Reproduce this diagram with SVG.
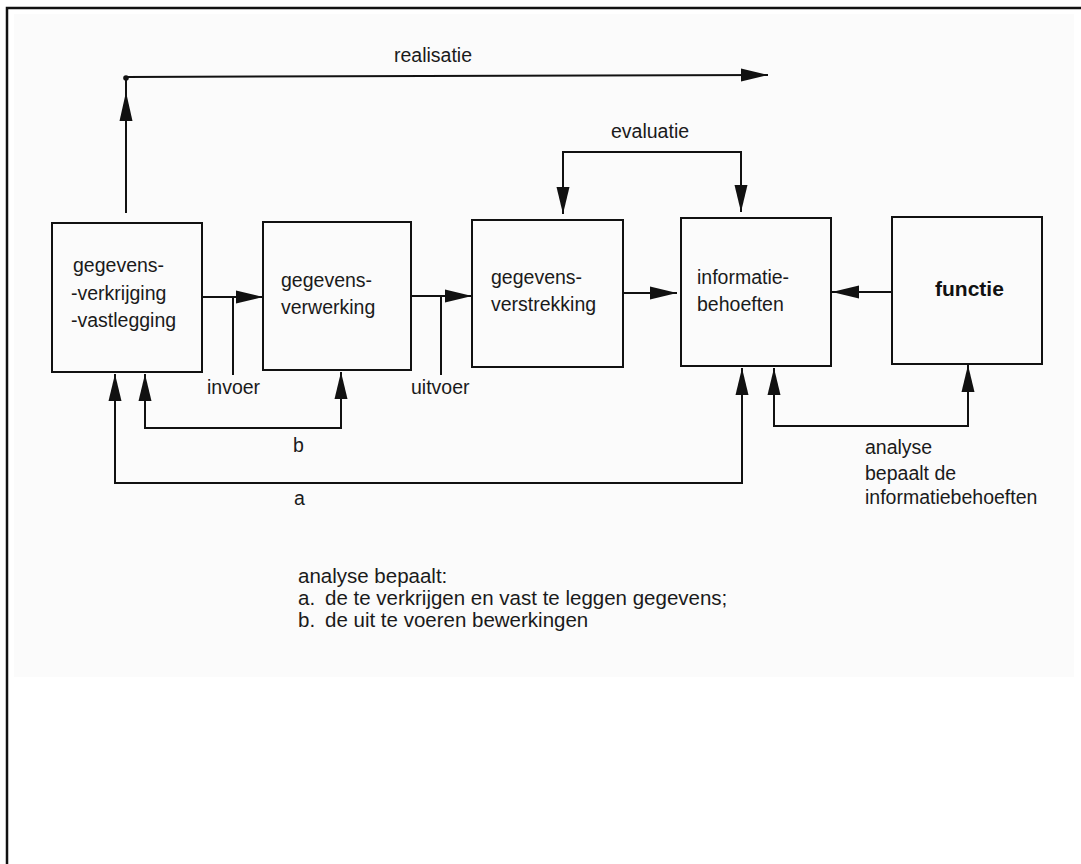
<svg xmlns="http://www.w3.org/2000/svg" width="1081" height="864" viewBox="0 0 1081 864">
<defs>
<style>
.box{fill:none;stroke:#111;stroke-width:2}
.ln{fill:none;stroke:#111;stroke-width:2}
.t{font-family:"Liberation Sans",Arial,Helvetica,sans-serif;font-size:19.5px;fill:#1a1a1a}
.tb{font-family:"Liberation Sans",Arial,Helvetica,sans-serif;font-size:21px;font-weight:bold;fill:#111}
.tn{font-family:"Liberation Sans",Arial,Helvetica,sans-serif;font-size:20.5px;fill:#1a1a1a}
</style>
<marker id="ah" markerUnits="userSpaceOnUse" markerWidth="28" markerHeight="14" refX="27" refY="7" orient="auto" viewBox="0 0 28 14">
<path d="M0,0.5 L27,7 L0,13.5 Z" fill="#111"/>
</marker>
</defs>
<rect x="0" y="0" width="1081" height="864" fill="#ffffff"/>
<rect x="14" y="14" width="1060" height="663" fill="#fbfbfb"/>
<path d="M7,864 V8 H1081" fill="none" stroke="#111" stroke-width="2.5"/>

<g id="node-verkrijging">
<rect class="box" x="52" y="223" width="150" height="149"/>
<text class="t" x="73" y="272">gegevens-</text>
<text class="t" x="71" y="300">-verkrijging</text>
<text class="t" x="71" y="327">-vastlegging</text>
</g>
<g id="node-verwerking">
<rect class="box" x="263" y="222" width="148" height="148"/>
<text class="t" x="281" y="287">gegevens-</text>
<text class="t" x="281" y="314">verwerking</text>
</g>
<g id="node-verstrekking">
<rect class="box" x="472" y="220" width="151" height="147"/>
<text class="t" x="491" y="284">gegevens-</text>
<text class="t" x="491" y="311">verstrekking</text>
</g>
<g id="node-informatiebehoeften">
<rect class="box" x="681" y="218" width="150" height="148"/>
<text class="t" x="697" y="284">informatie-</text>
<text class="t" x="697" y="311">behoeften</text>
</g>
<g id="node-functie">
<rect class="box" x="892" y="217" width="150" height="147"/>
<text class="tb" x="935" y="296">functie</text>
</g>

<g id="connectors">
<path class="ln" d="M126,213 V78"/>
<polygon points="126,92 132.5,121 119.5,121" fill="#111"/>
<circle cx="126" cy="78" r="2.8" fill="#111"/>
<path class="ln" d="M126,77 L768,75" marker-end="url(#ah)"/>
<path class="ln" d="M652,152 H563 V214" marker-end="url(#ah)"/>
<path class="ln" d="M652,152 H741 V212" marker-end="url(#ah)"/>
<path class="ln" d="M202,297 H263" marker-end="url(#ah)"/>
<path class="ln" d="M233,297 V375"/>
<path class="ln" d="M411,296 H472" marker-end="url(#ah)"/>
<path class="ln" d="M441,296 V375"/>
<path class="ln" d="M623,293 H677" marker-end="url(#ah)"/>
<path class="ln" d="M892,292 H832" marker-end="url(#ah)"/>
<path class="ln" d="M243,428 H145 V374" marker-end="url(#ah)"/>
<path class="ln" d="M243,428 H341 V372" marker-end="url(#ah)"/>
<path class="ln" d="M400,483 H115 V374" marker-end="url(#ah)"/>
<path class="ln" d="M400,483 H742 V368" marker-end="url(#ah)"/>
<path class="ln" d="M870,426 H774 V368" marker-end="url(#ah)"/>
<path class="ln" d="M870,426 H968 V365" marker-end="url(#ah)"/>
</g>

<g id="labels">
<text class="t" x="394" y="62">realisatie</text>
<text class="t" x="611" y="138">evaluatie</text>
<text class="t" x="207" y="394">invoer</text>
<text class="t" x="411" y="394">uitvoer</text>
<text class="t" x="293" y="452">b</text>
<text class="t" x="294" y="505">a</text>
<text class="t" x="865" y="454">analyse</text>
<text class="t" x="865" y="480">bepaalt de</text>
<text class="t" x="865" y="504">informatiebehoeften</text>
<text class="tn" x="298" y="583">analyse bepaalt:</text>
<text class="tn" x="298" y="605">a.<tspan x="325">de te verkrijgen en vast te leggen gegevens;</tspan></text>
<text class="tn" x="298" y="627">b.<tspan x="325">de uit te voeren bewerkingen</tspan></text>
</g>
</svg>
